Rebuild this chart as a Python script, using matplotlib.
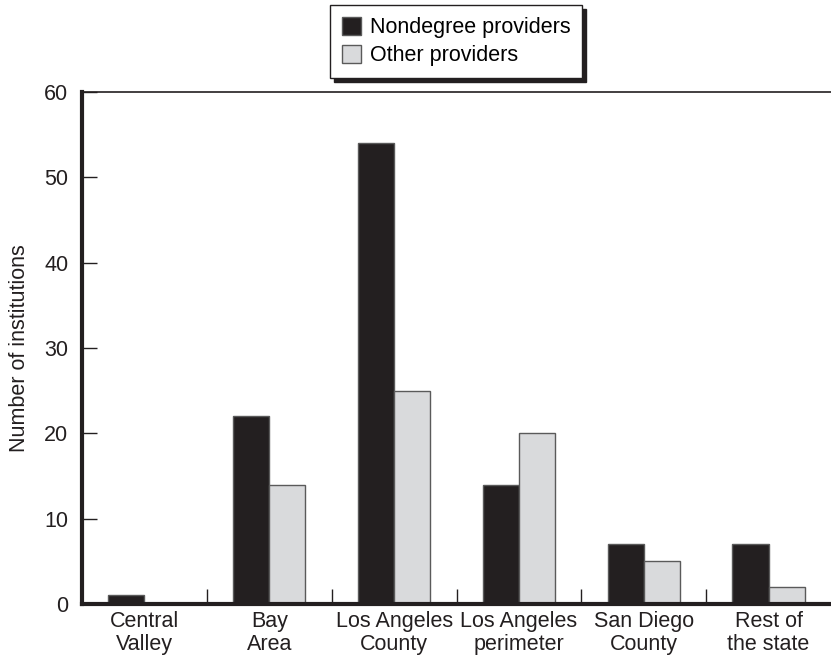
import numpy as np
import matplotlib
matplotlib.use("Agg")
import matplotlib.pyplot as plt
from matplotlib.ticker import FixedLocator

plt.rcParams['font.family'] = ['Liberation Sans', 'DejaVu Sans']

regions = ['Central\nValley', 'Bay\nArea', 'Los Angeles\nCounty',
           'Los Angeles\nperimeter', 'San Diego\nCounty', 'Rest of\nthe state']
nondegree = [1, 22, 54, 14, 7, 7]
other = [0, 14, 25, 20, 5, 2]

dark = '#231f20'
light = '#d9dadc'
edge = '#5a5a5a'
fs = 15.5

fig = plt.figure(figsize=(8.31, 6.66), dpi=100)
ax = fig.add_axes([0.0987, 0.0931, 0.9013, 0.7688])

x = np.arange(len(regions))
w = 0.29
ax.bar(x, nondegree, width=-w, align='edge', color=dark, edgecolor=edge,
       linewidth=1, label='Nondegree providers', zorder=2)
ax.bar(x, other, width=w, align='edge', color=light, edgecolor=edge,
       linewidth=1, label='Other providers', zorder=2)

ax.set_xlim(-0.5, len(regions) - 0.5)
ax.set_ylim(0, 60)

# spines: heavy left/bottom, thin top, no right
ax.spines['left'].set_linewidth(3)
ax.spines['bottom'].set_linewidth(3)
ax.spines['top'].set_linewidth(1.2)
ax.spines['right'].set_visible(False)
for s in ax.spines.values():
    s.set_color(dark)
    s.set_zorder(3)

ax.set_yticks(np.arange(0, 61, 10))
ax.tick_params(axis='y', direction='in', length=11, width=1, labelsize=fs,
               pad=10, colors=dark)
ax.set_xticks(x)
ax.set_xticklabels(regions, linespacing=1.15)
ax.tick_params(axis='x', which='major', length=0, labelsize=fs, pad=5,
               colors=dark)
ax.xaxis.set_minor_locator(FixedLocator(x[:-1] + 0.5))
ax.tick_params(axis='x', which='minor', direction='in', length=11, width=1,
               color=dark)

ax.set_ylabel('Number of institutions', fontsize=fs, labelpad=10, color=dark)

leg = fig.legend(loc='upper center', bbox_to_anchor=(456 / 831, 1 - 5 / 666),
                 borderaxespad=0, fancybox=False,
                 shadow={'color': dark, 'alpha': 1, 'ox': 3, 'oy': -3},
                 fontsize=fs, handlelength=0.9, handleheight=0.9,
                 handletextpad=0.4, borderpad=0.55, labelspacing=0.3,
                 framealpha=1, edgecolor=dark)
leg.get_frame().set_linewidth(1)

fig.savefig('out.png', dpi=100)
